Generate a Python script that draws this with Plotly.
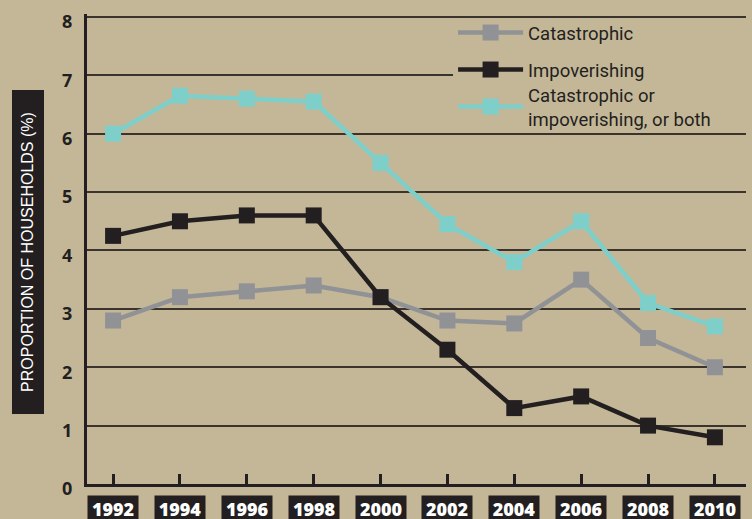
import plotly.graph_objects as go

years = [1992, 1994, 1996, 1998, 2000, 2002, 2004, 2006, 2008, 2010]
catastrophic = [2.8, 3.2, 3.3, 3.4, 3.2, 2.8, 2.75, 3.5, 2.5, 2.0]
impoverishing = [4.25, 4.5, 4.6, 4.6, 3.2, 2.3, 1.3, 1.5, 1.0, 0.8]
either_or_both = [6.0, 6.65, 6.6, 6.55, 5.5, 4.45, 3.8, 4.5, 3.1, 2.7]
y_ticks = [0, 1, 2, 3, 4, 5, 6, 7, 8]
y_title = "PROPORTION OF HOUSEHOLDS (%)"
names = ["Catastrophic", "Impoverishing", "Catastrophic or<br>impoverishing, or both"]

BG = "#c4b798"
DARK = "#231f20"
GRAY = "#909296"
CYAN = "#7ecfca"

fig = go.Figure()
series = [
    (catastrophic, GRAY, names[0], "legend"),
    (either_or_both, CYAN, names[2], "legend3"),
    (impoverishing, DARK, names[1], "legend2"),
]
for vals, col, nm, lg in series:
    fig.add_trace(go.Scatter(
        x=years, y=vals, mode="lines+markers", name=nm,
        line=dict(color=col, width=4.5),
        marker=dict(symbol="square", size=16, color=col),
        legend=lg,
    ))

annotations = []
for yr in years:
    annotations.append(dict(
        x=yr, xref="x", y=0, yref="paper", yshift=-25, yanchor="middle",
        text=str(yr), showarrow=False, bgcolor=DARK,
        width=50, height=26, borderpad=0,
        font=dict(family="Open Sans", size=18, color="white", weight=800),
    ))
annotations.append(dict(
    x=0, xref="paper", xshift=-59.5, xanchor="center",
    y=0.4936, yref="paper", yanchor="middle",
    text=y_title, textangle=-90, showarrow=False, bgcolor=DARK,
    width=323, height=31, borderpad=0,
    font=dict(family="Liberation Sans, Arial", size=16, color="white"),
))

T, B = 14, 35
PH = 519 - T - B


def ypaper(py):
    return 1 - (py - T) / PH


legend_common = dict(
    x=0.5555, xanchor="left", yanchor="middle", orientation="h",
    font=dict(family="Roboto", size=18.5, color=DARK),
    itemwidth=65, entrywidth=236,
)

fig.update_layout(
    width=752, height=519,
    margin=dict(l=87, r=6, t=T, b=B, autoexpand=False),
    paper_bgcolor=BG, plot_bgcolor=BG,
    showlegend=True,
    legend=dict(y=ypaper(33), bgcolor="rgba(0,0,0,0)", **legend_common),
    legend2=dict(y=ypaper(70), bgcolor=BG, **legend_common),
    legend3=dict(y=ypaper(107), bgcolor="rgba(0,0,0,0)", **legend_common),
    annotations=annotations,
    xaxis=dict(
        range=[1991.22, 2010.93], tickvals=years, showticklabels=False,
        ticks="inside", ticklen=10, tickwidth=3, tickcolor=DARK,
        showgrid=False, zeroline=False, showline=True, linecolor=DARK, linewidth=3,
    ),
    yaxis=dict(
        range=[0, 8.05], tickvals=y_ticks, ticks="",
        showgrid=True, gridcolor="#3a342c", gridwidth=1.5,
        zeroline=False, showline=True, linecolor=DARK, linewidth=3,
        tickfont=dict(family="Open Sans", size=18, color=DARK, weight="bold"),
        ticklabelshift=5, ticklabelstandoff=8, ticklabeloverflow="allow",
    ),
)

fig.write_html(
    "out.html",
    config={"displayModeBar": False},
    post_script=f"document.body.style.margin='0';document.body.style.background='{BG}';",
)
